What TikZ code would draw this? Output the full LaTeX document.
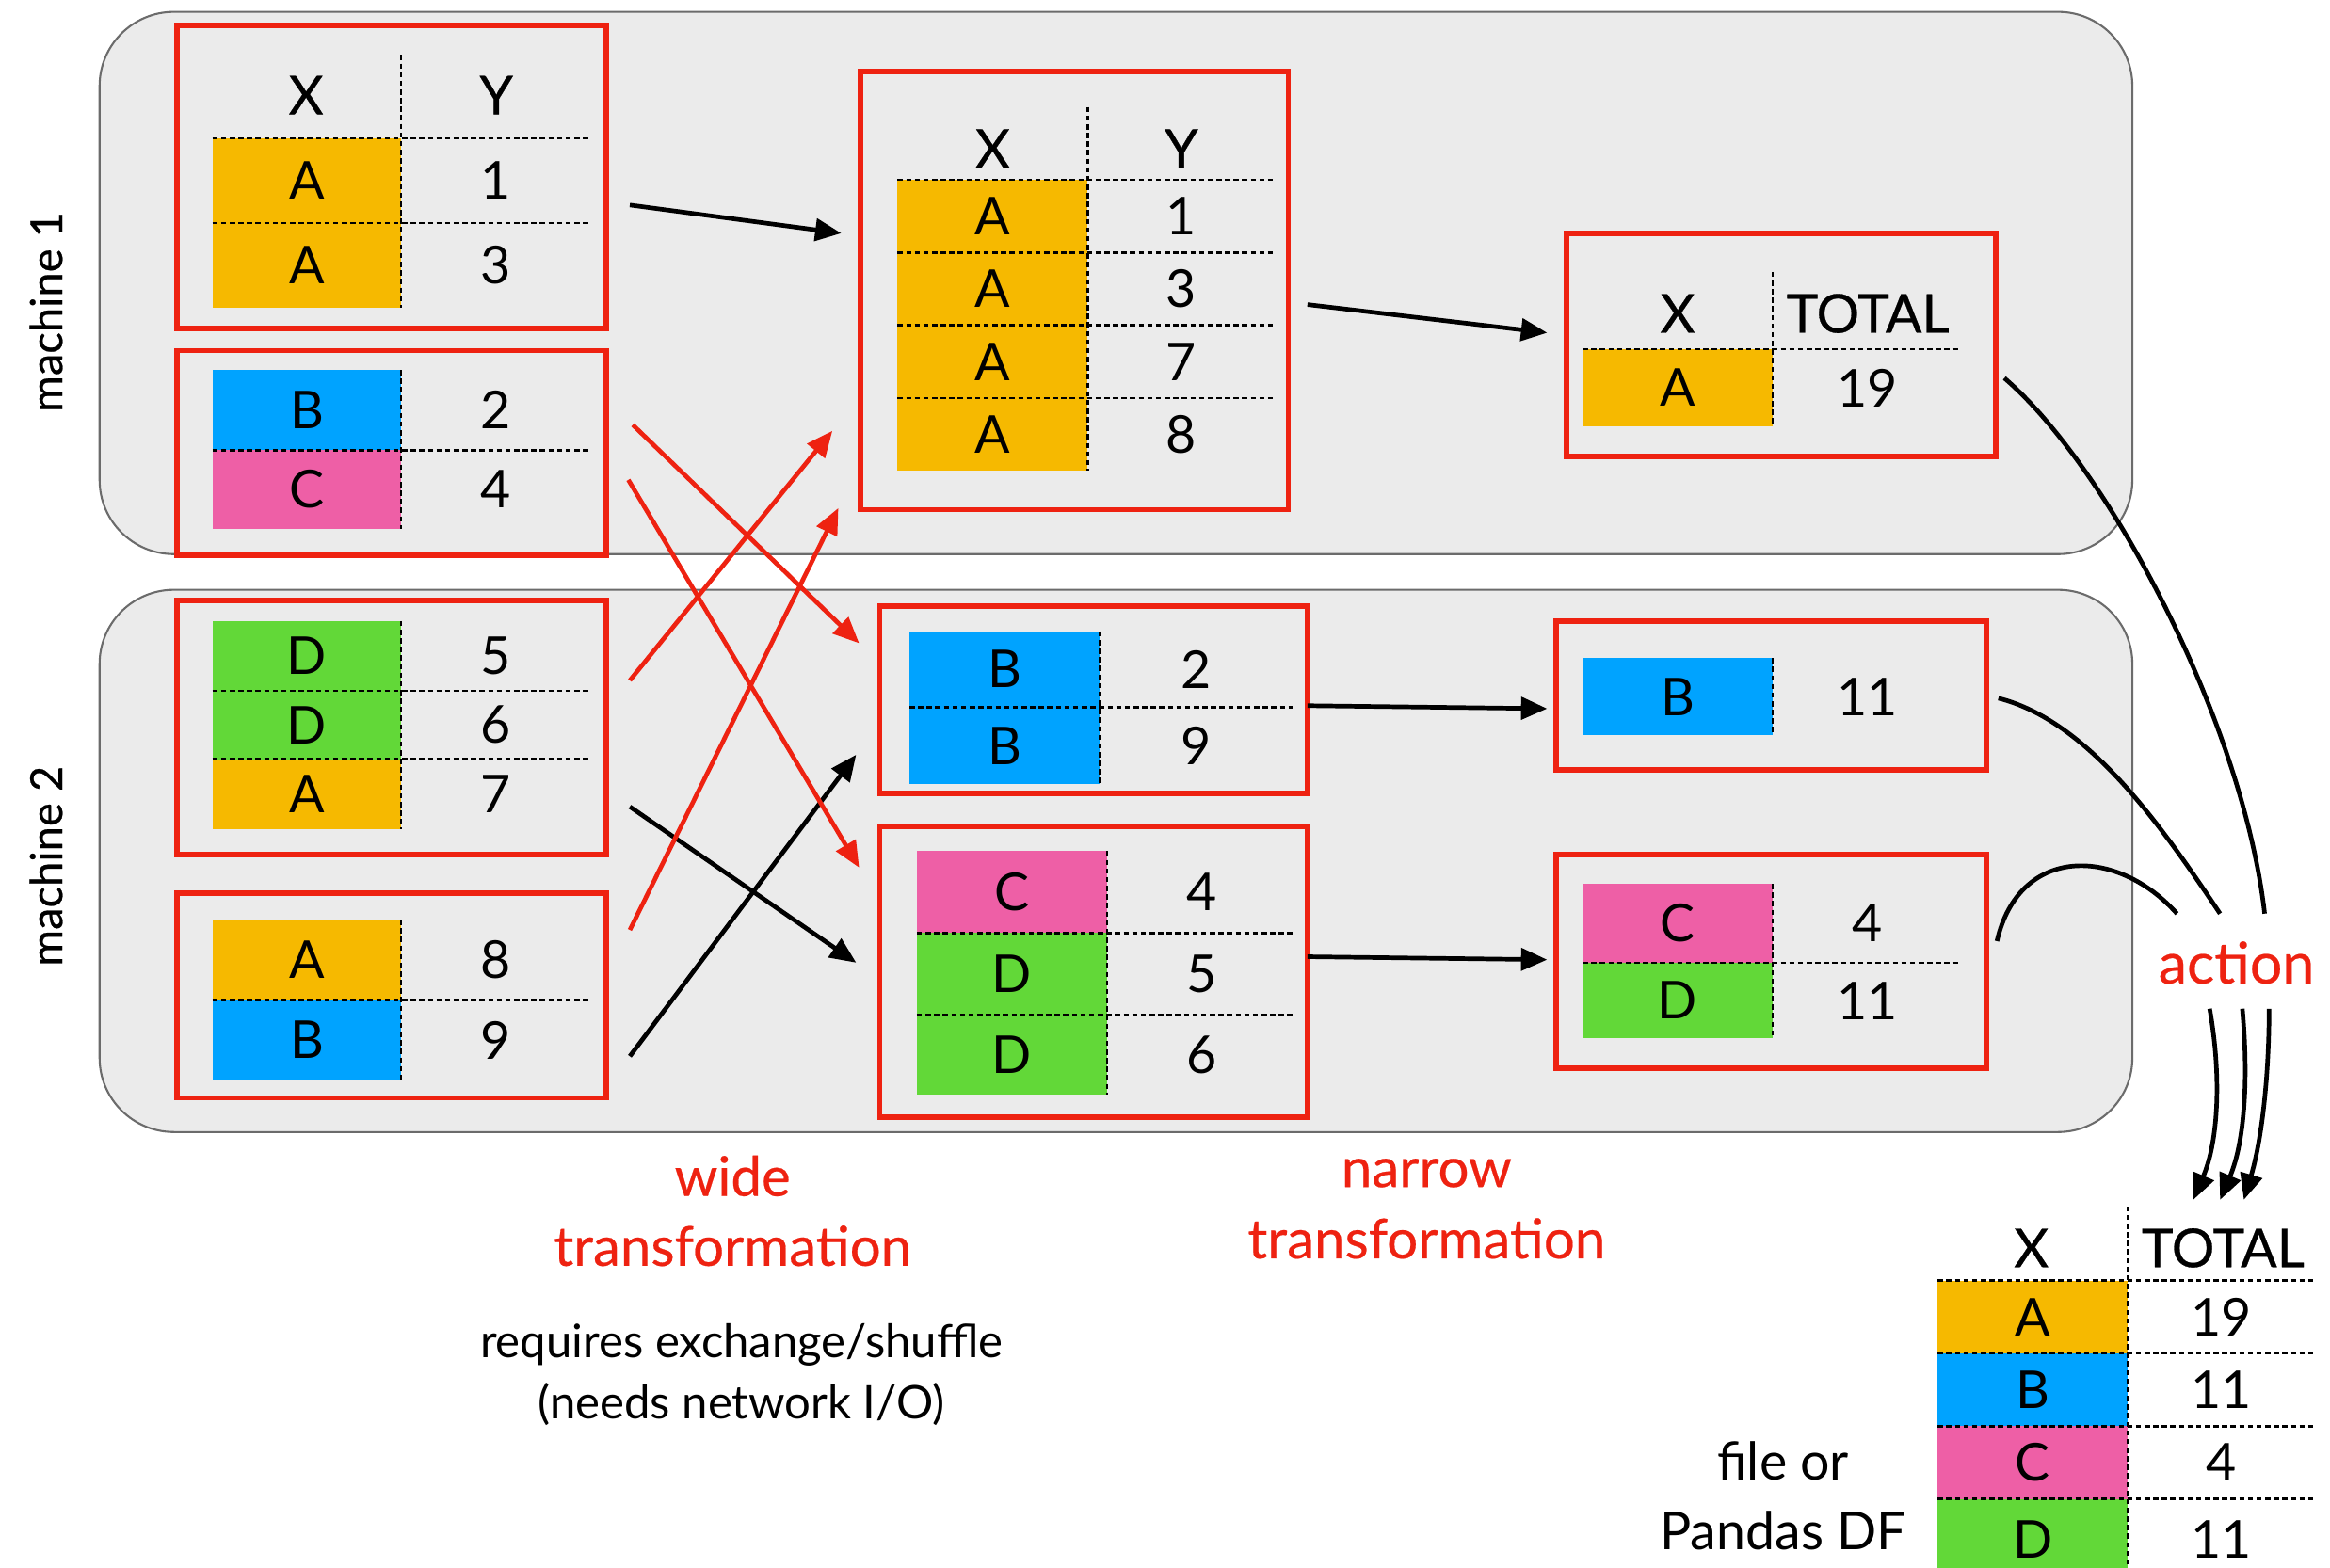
\documentclass[tikz,border=0pt]{standalone}
\usepackage{fontspec}
\setmainfont{Lato}
\newfontfamily\headfont{Lato}[FakeBold=0.5]
\newfontfamily\markfont{Lato}[FakeBold=0.35]
\usetikzlibrary{arrows.meta,fit}

\definecolor{keyA}{HTML}{F6B900}
\definecolor{keyB}{HTML}{00A3FF}
\definecolor{keyC}{HTML}{EE5FA6}
\definecolor{keyD}{HTML}{62D838}
\definecolor{hot}{HTML}{EE2211}
\definecolor{panel}{HTML}{EBEBEB}
\definecolor{rim}{HTML}{6B6B6B}

\tikzset{
  machine/.style={draw=rim, line width=0.75pt, fill=panel, rounded corners=1cm, inner sep=0pt},
  part/.style={draw=hot, line width=2.1pt, inner sep=0pt},
  cellarea/.style={inner sep=0pt},
  cell/.style={inner sep=0pt, font=\fontsize{20}{24}\selectfont},
  head/.style={inner sep=0pt, font=\headfont\fontsize{20.5}{24}\selectfont},
  dots/.style={line width=0.9pt, dash pattern=on 2pt off 1.3pt},
  flow/.style={line width=1.7pt, -{Triangle[length=10pt,width=8.5pt]}},
  gather/.style={line width=1.7pt},
  redlabel/.style={text=hot, font=\markfont\fontsize{21}{25}\selectfont, anchor=base, inner sep=0pt},
  note/.style={font=\fontsize{17.7}{21}\selectfont, anchor=base, inner sep=0pt},
  sidenote/.style={font=\fontsize{20}{24}\selectfont, anchor=base, inner sep=0pt},
  machlabel/.style={font=\headfont\fontsize{17}{20}\selectfont, rotate=90, inner sep=0pt}
}

% coloured key cell and plain value cell, spanning a rectangle; the text sits at its centre
\newcommand\keycell[7]{%
  \node[cellarea, fill=#6, fit={(#2,#3) (#4,#5)}] (#1) {};
  \node[cell] (#1t) at (#1.center) {#7};}
\newcommand\valcell[6]{%
  \node[cellarea, fit={(#2,#3) (#4,#5)}] (#1) {};
  \node[cell] (#1t) at (#1.center) {#6};}

\begin{document}
\begin{tikzpicture}[x=0.02cm, y=-0.02cm]
\useasboundingbox (0,0) rectangle (1568,1055);
\fill[white] (0,0) rectangle (1568,1055);

% machines
\node[machine, fit={(67,8) (1435,373)}] (m1) {};
\node[machine, fit={(67,397) (1435,762)}] (m2) {};
\node[machlabel] (m1lab) at (31,210) {machine 1};
\node[machlabel] (m2lab) at (31,583) {machine 2};

% ---- machine 1, partition 1
\node[part, fit={(119,17) (408,221)}] (t1) {};
\node[head] (t1hx) at (206,64) {X};
\node[head] (t1hy) at (334,64) {Y};
\keycell{t1k1}{143}{93}{270}{150}{keyA}{A}  \valcell{t1v1}{270}{93}{397}{150}{1}
\keycell{t1k2}{143}{150}{270}{207}{keyA}{A} \valcell{t1v2}{270}{150}{397}{207}{3}
\draw[dots] (270,37) -- (270,207);
\draw[dots] (143,93) -- (397,93);
\draw[dots] (143,150) -- (397,150);

% ---- machine 1, partition 2
\node[part, fit={(119,236) (408,374)}] (t2) {};
\keycell{t2k1}{143}{249}{270}{303}{keyB}{B} \valcell{t2v1}{270}{249}{397}{303}{2}
\keycell{t2k2}{143}{303}{270}{356}{keyC}{C} \valcell{t2v2}{270}{303}{397}{356}{4}
\draw[dots] (270,249) -- (270,356);
\draw[dots] (143,303) -- (397,303);

% ---- machine 2, partition 1
\node[part, fit={(119,404) (408,575)}] (t3) {};
\keycell{t3k1}{143}{418}{270}{465}{keyD}{D} \valcell{t3v1}{270}{418}{397}{465}{5}
\keycell{t3k2}{143}{465}{270}{511}{keyD}{D} \valcell{t3v2}{270}{465}{397}{511}{6}
\keycell{t3k3}{143}{511}{270}{558}{keyA}{A} \valcell{t3v3}{270}{511}{397}{558}{7}
\draw[dots] (270,418) -- (270,558);
\draw[dots] (143,465) -- (397,465);
\draw[dots] (143,511) -- (397,511);

% ---- machine 2, partition 2
\node[part, fit={(119,601) (408,739)}] (t4) {};
\keycell{t4k1}{143}{619}{270}{673}{keyA}{A} \valcell{t4v1}{270}{619}{397}{673}{8}
\keycell{t4k2}{143}{673}{270}{727}{keyB}{B} \valcell{t4v2}{270}{673}{397}{727}{9}
\draw[dots] (270,619) -- (270,727);
\draw[dots] (143,673) -- (397,673);

% ---- shuffled partition for key A
\node[part, fit={(579,48) (867,343)}] (t5) {};
\node[head] (t5hx) at (668,100) {X};
\node[head] (t5hy) at (795,100) {Y};
\keycell{t5k1}{604}{121}{732}{170}{keyA}{A} \valcell{t5v1}{732}{121}{858}{170}{1}
\keycell{t5k2}{604}{170}{732}{219}{keyA}{A} \valcell{t5v2}{732}{170}{858}{219}{3}
\keycell{t5k3}{604}{219}{732}{268}{keyA}{A} \valcell{t5v3}{732}{219}{858}{268}{7}
\keycell{t5k4}{604}{268}{732}{317}{keyA}{A} \valcell{t5v4}{732}{268}{858}{317}{8}
\draw[dots] (732,72) -- (732,317);
\foreach \yy in {121,170,219,268} \draw[dots] (604,\yy) -- (858,\yy);

% ---- aggregate for key A
\node[part, fit={(1054,157) (1343,307)}] (t6) {};
\node[head] (t6hx) at (1129,211) {X};
\node[head] (t6ht) at (1257,211) {TOTAL};
\keycell{t6k1}{1065}{235}{1193}{287}{keyA}{A} \valcell{t6v1}{1193}{235}{1320}{287}{19}
\draw[dots] (1193,183) -- (1193,287);
\draw[dots] (1065,235) -- (1320,235);

% ---- shuffled partition for key B
\node[part, fit={(592,408) (880,534)}] (t7) {};
\keycell{t7k1}{612}{425}{740}{476}{keyB}{B} \valcell{t7v1}{740}{425}{870}{476}{2}
\keycell{t7k2}{612}{476}{740}{528}{keyB}{B} \valcell{t7v2}{740}{476}{870}{528}{9}
\draw[dots] (740,425) -- (740,528);
\draw[dots] (612,476) -- (870,476);

% ---- shuffled partition for keys C, D
\node[part, fit={(592,556) (880,752)}] (t8) {};
\keycell{t8k1}{617}{573}{745}{628}{keyC}{C} \valcell{t8v1}{745}{573}{872}{628}{4}
\keycell{t8k2}{617}{628}{745}{683}{keyD}{D} \valcell{t8v2}{745}{628}{872}{683}{5}
\keycell{t8k3}{617}{683}{745}{737}{keyD}{D} \valcell{t8v3}{745}{683}{872}{737}{6}
\draw[dots] (745,573) -- (745,737);
\draw[dots] (617,628) -- (872,628);
\draw[dots] (617,683) -- (872,683);

% ---- aggregate for key B
\node[part, fit={(1047,418) (1337,518)}] (t9) {};
\keycell{t9k1}{1065}{443}{1193}{495}{keyB}{B} \valcell{t9v1}{1193}{443}{1320}{495}{11}
\draw[dots] (1193,443) -- (1193,495);

% ---- aggregate for keys C, D
\node[part, fit={(1047,575) (1337,719)}] (t10) {};
\keycell{t10k1}{1065}{595}{1193}{648}{keyC}{C} \valcell{t10v1}{1193}{595}{1320}{648}{4}
\keycell{t10k2}{1065}{648}{1193}{699}{keyD}{D} \valcell{t10v2}{1193}{648}{1320}{699}{11}
\draw[dots] (1193,595) -- (1193,699);
\draw[dots] (1065,648) -- (1320,648);

% ---- collected result
\node[inner sep=0pt, fit={(1304,812) (1558,1058)}] (res) {};
\node[head] (reshx) at (1367,840) {X};
\node[head] (resht) at (1496,840) {TOTAL};
\keycell{rk1}{1304}{862}{1432}{911}{keyA}{A}   \valcell{rv1}{1432}{862}{1558}{911}{19}
\keycell{rk2}{1304}{911}{1432}{960}{keyB}{B}   \valcell{rv2}{1432}{911}{1558}{960}{11}
\keycell{rk3}{1304}{960}{1432}{1009}{keyC}{C}  \valcell{rv3}{1432}{960}{1558}{1009}{4}
\keycell{rk4}{1304}{1009}{1432}{1063}{keyD}{D} \valcell{rv4}{1432}{1009}{1558}{1063}{11}
\draw[dots] (1432,812) -- (1432,1060);
\foreach \yy in {862,911,960,1009} \draw[dots] (1304,\yy) -- (1558,\yy);

% ---- narrow steps
\draw[flow] ([shift={(14,19)}]t1.east) -- ([shift={(-11,-38.5)}]t5.west);
\draw[flow] ([shift={(11,9.5)}]t5.east) -- ([shift={(-11,-8)}]t6.west);
\draw[flow] ([shift={(-2,4)}]t7.east) -- ([shift={(-4,9)}]t9.west);
\draw[flow] ([shift={(-2,-10)}]t8.east) -- ([shift={(-4,-1)}]t10.west);
\draw[flow] ([shift={(14,53.5)}]t3.east) -- ([shift={(-14,-6)}]t8.west);
\draw[flow] ([shift={(14,41)}]t4.east) -- ([shift={(-14,37)}]t7.west);

% ---- shuffle between machines
\draw[flow, hot] ([shift={(16,-19)}]t2.east) -- ([shift={(-12,-38)}]t7.west);
\draw[flow, hot] ([shift={(13,18)}]t2.east) -- ([shift={(-12,-70)}]t8.west);
\draw[flow, hot] ([shift={(14,-31.5)}]t3.east) -- ([shift={(-17,94.5)}]t5.west);
\draw[flow, hot] ([shift={(14,-44)}]t4.east) -- ([shift={(-13,146.5)}]t5.west);

% ---- labels
\node[redlabel] (widel1) at (493,805) {wide};
\node[redlabel] (widel2) at (493,852) {transformation};
\node[note] (wnote1) at (499,914) {requires exchange/shuffle};
\node[note] (wnote2) at (499,955) {(needs network I/O)};
\node[redlabel] (narl1) at (960,799) {narrow};
\node[redlabel] (narl2) at (960,847) {transformation};
\node[redlabel, font=\markfont\fontsize{22}{26}\selectfont] (act) at (1505,662) {action};
\node[sidenote] (dest1) at (1200,996) {file or};
\node[sidenote] (dest2) at (1200,1043) {Pandas DF};

% ---- action: collect to the driver
\draw[gather] ([shift={(4,22.5)}]t6.east) .. controls +(70,60) and +(-15,-130) .. ([shift={(19,-47)}]act.base);
\draw[gather] ([shift={(6,2)}]t9.east) .. controls +(60,15) and +(-40,-60) .. ([shift={(-11,-47)}]act.base);
\draw[gather] ([shift={(5,-13.5)}]t10.east) .. controls +(15,-65) and +(-40,-45) .. ([shift={(-40,-47)}]act.base);
\draw[flow] ([shift={(-18,17)}]act.base) .. controls +(8,45) and +(17,-40) .. ([shift={(45,-4)}]res.north);
\draw[flow] ([shift={(4,17)}]act.base) .. controls +(4,45) and +(17,-40) .. ([shift={(63,-4)}]res.north);
\draw[flow] ([shift={(22,17)}]act.base) .. controls +(0,45) and +(12,-40) .. ([shift={(79,-4)}]res.north);
\end{tikzpicture}
\end{document}
